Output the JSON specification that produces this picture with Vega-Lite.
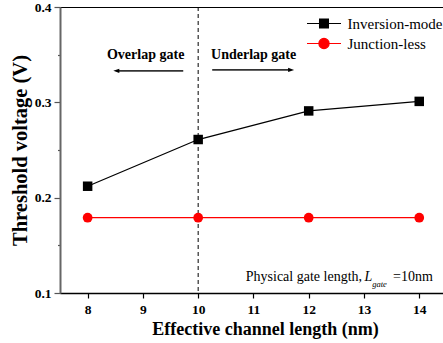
{
  "$schema": "https://vega.github.io/schema/vega-lite/v6.json",
  "width": 383,
  "height": 286,
  "autosize": {"type": "none"},
  "padding": {"left": 60, "top": 7, "right": 0, "bottom": 50},
  "background": "white",
  "config": {
    "font": "Liberation Serif",
    "view": {"stroke": "black", "strokeWidth": 1}
  },
  "datasets": {
    "vth": [
      {"L": 8, "Vth": 0.212, "series": "Inversion-mode"},
      {"L": 10, "Vth": 0.261, "series": "Inversion-mode"},
      {"L": 12, "Vth": 0.291, "series": "Inversion-mode"},
      {"L": 14, "Vth": 0.301, "series": "Inversion-mode"},
      {"L": 8, "Vth": 0.179, "series": "Junction-less"},
      {"L": 10, "Vth": 0.179, "series": "Junction-less"},
      {"L": 12, "Vth": 0.179, "series": "Junction-less"},
      {"L": 14, "Vth": 0.179, "series": "Junction-less"}
    ],
    "one": [{}]
  },
  "data": {"name": "vth"},
  "layer": [
    {
      "data": {"name": "one"},
      "mark": {"type": "rule", "strokeDash": [4, 3], "color": "black", "strokeWidth": 1},
      "encoding": {"x": {"datum": 10, "type": "quantitative"}}
    },
    {
      "mark": {"type": "line", "strokeWidth": 1.3, "clip": true},
      "encoding": {
        "x": {
          "field": "L", "type": "quantitative",
          "scale": {"domain": [7.5, 14.43], "nice": false, "zero": false},
          "axis": {
            "title": "Effective channel length (nm)",
            "titleFont": "Liberation Serif", "titleFontSize": 18, "titleFontWeight": "bold", "titleColor": "black",
            "titleX": 205, "titleY": 36, "titleBaseline": "middle",
            "values": [8, 8.5, 9, 9.5, 10, 10.5, 11, 11.5, 12, 12.5, 13, 13.5, 14],
            "labelExpr": "datum.value % 1 === 0 ? format(datum.value, 'd') : ''",
            "labelFont": "Liberation Serif", "labelFontSize": 13.5, "labelFontWeight": "bold", "labelColor": "black",
            "labelPadding": 4, "labelOverlap": false, "labelFlush": false,
            "tickSize": {"condition": {"test": "datum.value % 1 === 0", "value": 5}, "value": 4},
            "tickColor": "black", "tickWidth": 1.2,
            "domainColor": "black", "domainWidth": 1.5,
            "grid": false
          }
        },
        "y": {
          "field": "Vth", "type": "quantitative",
          "scale": {"domain": [0.1, 0.4], "nice": false, "zero": false},
          "axis": {
            "title": "Threshold voltage (V)",
            "titleFont": "Liberation Serif", "titleFontSize": 20.5, "titleFontWeight": "bold", "titleColor": "black",
            "titleX": -40, "titleBaseline": "middle",
            "values": [0.1, 0.15, 0.2, 0.25, 0.3, 0.35, 0.4],
            "labelExpr": "round(datum.value * 100) % 10 === 0 ? format(datum.value, '.1f') : ''",
            "labelFont": "Liberation Serif", "labelFontSize": 13.5, "labelFontWeight": "bold", "labelColor": "black",
            "labelPadding": 3, "labelOverlap": false, "labelFlush": false,
            "tickSize": {"condition": {"test": "round(datum.value * 100) % 10 === 0", "value": 6}, "value": 2.5},
            "tickColor": "#555", "tickWidth": 1.2,
            "domainColor": "#666", "domainWidth": 2,
            "grid": false
          }
        },
        "color": {
          "field": "series", "type": "nominal",
          "scale": {"domain": ["Inversion-mode", "Junction-less"], "range": ["black", "#ff0000"]},
          "legend": {
            "title": null,
            "orient": "none",
            "legendX": 254.5,
            "legendY": 7,
            "labelFont": "Liberation Serif",
            "labelFontSize": 15,
            "labelColor": "black",
            "labelOffset": 14,
            "symbolSize": 289,
            "rowPadding": 2,
            "symbolStrokeWidth": 1.2,
            "encode": {
              "symbols": {
                "update": {
                  "shape": {"signal": "datum.value === 'Inversion-mode' ? 'M-2,0H2M-0.52,-0.52H0.52V0.52H-0.52Z' : 'M-2,0H2M0.6,0A0.6,0.6 0 1,1 -0.6,0A0.6,0.6 0 1,1 0.6,0Z'"},
                  "fill": {"signal": "datum.value === 'Inversion-mode' ? 'black' : '#ff0000'"},
                  "stroke": {"signal": "datum.value === 'Inversion-mode' ? 'black' : '#ff0000'"},
                  "strokeWidth": {"value": 1.2},
                  "opacity": {"value": 1}
                }
              }
            }
          }
        }
      }
    },
    {
      "transform": [{"filter": "datum.series === 'Inversion-mode'"}],
      "mark": {"type": "point", "shape": "square", "filled": true, "opacity": 1, "size": 90, "color": "black"},
      "encoding": {
        "x": {"field": "L", "type": "quantitative"},
        "y": {"field": "Vth", "type": "quantitative"}
      }
    },
    {
      "transform": [{"filter": "datum.series === 'Junction-less'"}],
      "mark": {"type": "point", "shape": "circle", "filled": true, "opacity": 1, "size": 95, "color": "#ff0000"},
      "encoding": {
        "x": {"field": "L", "type": "quantitative"},
        "y": {"field": "Vth", "type": "quantitative"}
      }
    },
    {
      "data": {"name": "one"},
      "mark": {"type": "rule", "color": "#333", "strokeWidth": 1.6},
      "encoding": {
        "x": {"datum": 9.73, "type": "quantitative"},
        "x2": {"datum": 8.55},
        "y": {"datum": 0.333, "type": "quantitative"}
      }
    },
    {
      "data": {"name": "one"},
      "mark": {"type": "rule", "color": "#333", "strokeWidth": 1.6},
      "encoding": {
        "x": {"datum": 10.254, "type": "quantitative"},
        "x2": {"datum": 11.65},
        "y": {"datum": 0.334, "type": "quantitative"}
      }
    },
    {
      "data": {"name": "one"},
      "mark": {"type": "point", "shape": "M0,0L2,-0.7L2,0.7Z", "size": 36, "filled": true, "color": "black", "opacity": 1},
      "encoding": {
        "x": {"datum": 8.465, "type": "quantitative"},
        "y": {"datum": 0.333, "type": "quantitative"}
      }
    },
    {
      "data": {"name": "one"},
      "mark": {"type": "point", "shape": "M0,0L-2,-0.7L-2,0.7Z", "size": 36, "filled": true, "color": "black", "opacity": 1},
      "encoding": {
        "x": {"datum": 11.736, "type": "quantitative"},
        "y": {"datum": 0.334, "type": "quantitative"}
      }
    },
    {
      "data": {"name": "one"},
      "mark": {"type": "text", "text": "Overlap gate", "font": "Liberation Serif", "fontSize": 14, "fontWeight": "bold", "color": "black", "align": "center", "baseline": "middle"},
      "encoding": {
        "x": {"datum": 9.05, "type": "quantitative"},
        "y": {"datum": 0.3496, "type": "quantitative"}
      }
    },
    {
      "data": {"name": "one"},
      "mark": {"type": "text", "text": "Underlap gate", "font": "Liberation Serif", "fontSize": 14, "fontWeight": "bold", "color": "black", "align": "center", "baseline": "middle"},
      "encoding": {
        "x": {"datum": 11.004, "type": "quantitative"},
        "y": {"datum": 0.3496, "type": "quantitative"}
      }
    },
    {
      "data": {"name": "one"},
      "mark": {"type": "text", "text": "Physical gate length,", "font": "Liberation Serif", "fontSize": 14, "color": "black", "align": "right", "baseline": "middle"},
      "encoding": {
        "x": {"datum": 12.965, "type": "quantitative"},
        "y": {"datum": 0.1172, "type": "quantitative"}
      }
    },
    {
      "data": {"name": "one"},
      "mark": {"type": "text", "text": "L", "font": "Liberation Serif", "fontSize": 14, "fontStyle": "italic", "color": "black", "align": "left", "baseline": "middle"},
      "encoding": {
        "x": {"datum": 13.01, "type": "quantitative"},
        "y": {"datum": 0.1172, "type": "quantitative"}
      }
    },
    {
      "data": {"name": "one"},
      "mark": {"type": "text", "text": "gate", "font": "Liberation Serif", "fontSize": 8.5, "fontStyle": "italic", "color": "black", "align": "left", "baseline": "middle"},
      "encoding": {
        "x": {"datum": 13.15, "type": "quantitative"},
        "y": {"datum": 0.1098, "type": "quantitative"}
      }
    },
    {
      "data": {"name": "one"},
      "mark": {"type": "text", "text": "=10nm", "font": "Liberation Serif", "fontSize": 14, "color": "black", "align": "left", "baseline": "middle"},
      "encoding": {
        "x": {"datum": 13.526, "type": "quantitative"},
        "y": {"datum": 0.1172, "type": "quantitative"}
      }
    }
  ]
}
